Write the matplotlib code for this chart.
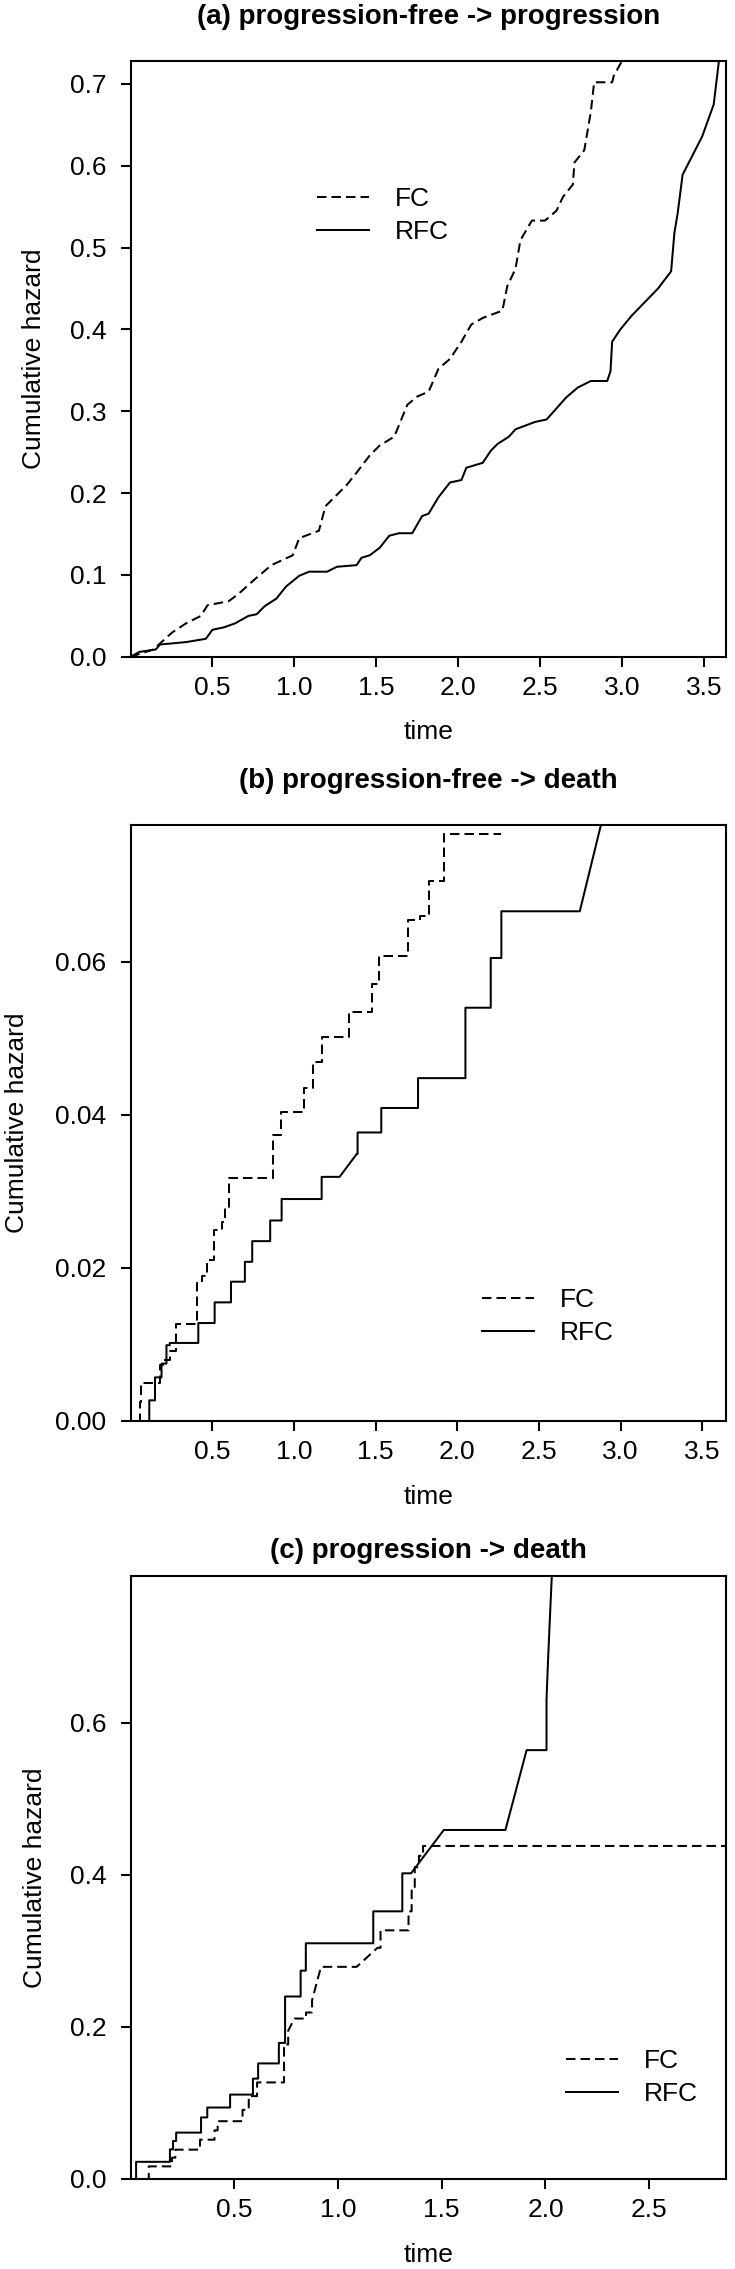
import matplotlib
matplotlib.use("Agg")
import matplotlib.pyplot as plt
from matplotlib.ticker import FormatStrFormatter

plt.rcParams['font.family'] = ['Liberation Sans', 'DejaVu Sans']

# ---------------- data ----------------
titles = ["(a) progression-free -> progression",
          "(b) progression-free -> death",
          "(c) progression -> death"]
series_labels = ["FC", "RFC"]

# panel (a): cumulative hazard curves (vertices)
a_fc_t = [0, 0.14, 0.256, 0.34, 0.43, 0.47, 0.60, 0.66, 0.76, 0.86, 0.99, 1.03, 1.15, 1.19, 1.26,
          1.32, 1.38, 1.46, 1.52, 1.61, 1.69, 1.75, 1.82, 1.88, 1.95, 2.02, 2.08, 2.15, 2.27, 2.30,
          2.35, 2.38, 2.45, 2.53, 2.60, 2.64, 2.70, 2.71, 2.77, 2.81, 2.83, 2.94, 2.95, 3.0, 3.05]
a_fc_h = [0, 0.009, 0.03, 0.041, 0.05, 0.063, 0.068, 0.077, 0.095, 0.112, 0.124, 0.145, 0.154, 0.184, 0.198,
          0.21, 0.225, 0.246, 0.258, 0.269, 0.308, 0.318, 0.324, 0.352, 0.364, 0.385, 0.406, 0.414, 0.423, 0.453,
          0.474, 0.509, 0.533, 0.533, 0.545, 0.562, 0.577, 0.604, 0.619, 0.666, 0.702, 0.702, 0.71, 0.728, 0.76]
a_rfc_t = [0, 0.055, 0.155, 0.18, 0.34, 0.46, 0.50, 0.57, 0.64, 0.72, 0.77, 0.82, 0.89, 0.95, 1.03,
           1.09, 1.20, 1.26, 1.38, 1.41, 1.46, 1.52, 1.58, 1.64, 1.72, 1.78, 1.82, 1.88, 1.95, 2.02,
           2.05, 2.15, 2.20, 2.24, 2.31, 2.35, 2.47, 2.54, 2.58, 2.66, 2.73, 2.81, 2.91, 2.93, 2.94,
           2.99, 3.06, 3.22, 3.30, 3.32, 3.34, 3.37, 3.49, 3.56, 3.59, 3.60]
a_rfc_h = [0, 0.006, 0.009, 0.015, 0.018, 0.022, 0.033, 0.036, 0.041, 0.050, 0.052, 0.062, 0.071, 0.086, 0.099,
           0.104, 0.104, 0.110, 0.112, 0.121, 0.124, 0.133, 0.148, 0.151, 0.151, 0.172, 0.175, 0.195, 0.213, 0.216,
           0.231, 0.237, 0.252, 0.260, 0.269, 0.278, 0.287, 0.290, 0.299, 0.317, 0.329, 0.337, 0.337, 0.349, 0.385,
           0.40, 0.417, 0.45, 0.471, 0.518, 0.542, 0.589, 0.636, 0.675, 0.725, 0.76]

# panel (b): step functions (event time, value after event); ramp = indices joined by a straight line
b_fc_t = [0.046, 0.056, 0.066, 0.18, 0.20, 0.24, 0.28, 0.41, 0.44, 0.47, 0.51, 0.56, 0.58, 0.60,
          0.87, 0.92, 1.06, 1.12, 1.17, 1.34, 1.48, 1.52, 1.70, 1.77, 1.83, 1.92, 2.27]
b_fc_h = [0, 0.0025, 0.005, 0.0073, 0.008, 0.0092, 0.0127, 0.018, 0.019, 0.021, 0.025, 0.026, 0.028, 0.0317,
          0.0374, 0.0404, 0.0435, 0.0469, 0.0502, 0.0535, 0.0571, 0.0607, 0.0654, 0.066, 0.0706, 0.0767, 0.0767]
b_fc_ramp = []
b_rfc_t = [0.10, 0.115, 0.15, 0.19, 0.22, 0.24, 0.415, 0.515, 0.615, 0.70, 0.745, 0.855, 0.925, 1.17, 1.28,
           1.385, 1.39, 1.535, 1.76, 2.05, 2.205, 2.27, 2.75, 2.89]
b_rfc_h = [0, 0.0027, 0.0057, 0.0075, 0.0099, 0.0102, 0.0128, 0.0155, 0.0182, 0.0208, 0.0235, 0.0262, 0.029,
           0.0319, 0.0319, 0.0349, 0.0377, 0.0409, 0.0448, 0.054, 0.0605, 0.0666, 0.0666, 0.0788]
b_rfc_ramp = [15, 23]

# panel (c): step functions
c_fc_t = [0.072, 0.088, 0.20, 0.216, 0.335, 0.405, 0.42, 0.54, 0.57, 0.61, 0.74, 0.76, 0.79, 0.846, 0.875,
          0.918, 1.09, 1.19, 1.205, 1.34, 1.355, 1.37, 1.39, 1.41, 2.88]
c_fc_h = [0, 0.0166, 0.028, 0.0386, 0.0517, 0.064, 0.076, 0.091, 0.109, 0.127, 0.177, 0.195, 0.211, 0.219, 0.235,
          0.279, 0.279, 0.304, 0.327, 0.352, 0.381, 0.41, 0.425, 0.438, 0.438]
c_fc_ramp = [12, 15, 17]
c_rfc_t = [0.016, 0.027, 0.19, 0.205, 0.22, 0.34, 0.37, 0.48, 0.59, 0.615, 0.715, 0.745, 0.82, 0.845, 1.17,
           1.31, 1.352, 1.51, 1.807, 1.909, 2.005, 2.012, 2.02, 2.03, 2.04]
c_rfc_h = [0, 0.0226, 0.039, 0.05, 0.061, 0.081, 0.094, 0.111, 0.132, 0.152, 0.179, 0.240, 0.274, 0.310, 0.352,
           0.402, 0.402, 0.459, 0.459, 0.564, 0.63, 0.68, 0.73, 0.79, 0.85]
c_rfc_ramp = [17, 19, 21, 22, 23, 24]

x_ticks_ab = [0.5, 1.0, 1.5, 2.0, 2.5, 3.0, 3.5]
x_ticks_c = [0.5, 1.0, 1.5, 2.0, 2.5]
y_ticks_a = [0.0, 0.1, 0.2, 0.3, 0.4, 0.5, 0.6, 0.7]
y_ticks_b = [0.00, 0.02, 0.04, 0.06]
y_ticks_c = [0.0, 0.2, 0.4, 0.6]


def step_vertices(t, h, ramp):
    xs, ys = [t[0]], [h[0]]
    for i in range(1, len(t)):
        if i in ramp:
            xs.append(t[i]); ys.append(h[i])
        else:
            xs += [t[i], t[i]]; ys += [h[i - 1], h[i]]
    return xs, ys


# ---------------- layout ----------------
W, H = 735, 2269
fig = plt.figure(figsize=(W / 100, H / 100), dpi=100)
fig.patch.set_facecolor("white")

LW = 1.45
DASH = (0, (4.7, 2.5))
FS = 19

panels = [
    dict(box=(130.5, 726, 60.6, 656.8), title_y=17, xlab_y=732, ylab_x=34,
         xlim=(0, 3.635), ylim=(0, 0.7285), xt=x_ticks_ab, yt=y_ticks_a, fmt='%.1f',
         fc=(a_fc_t, a_fc_h), rfc=(a_rfc_t, a_rfc_h),
         leg=(0.314, 0.740)),
    dict(box=(130.5, 726, 824.8, 1421), title_y=781, xlab_y=1497, ylab_x=17,
         xlim=(0, 3.645), ylim=(0, 0.0779), xt=x_ticks_ab, yt=y_ticks_b, fmt='%.2f',
         fc=step_vertices(b_fc_t, b_fc_h, b_fc_ramp), rfc=step_vertices(b_rfc_t, b_rfc_h, b_rfc_ramp),
         leg=(0.590, 0.175)),
    dict(box=(130.5, 726, 1576, 2179), title_y=1551, xlab_y=2255, ylab_x=35,
         xlim=(0, 2.87), ylim=(0, 0.793), xt=x_ticks_c, yt=y_ticks_c, fmt='%.1f',
         fc=step_vertices(c_fc_t, c_fc_h, c_fc_ramp), rfc=step_vertices(c_rfc_t, c_rfc_h, c_rfc_ramp),
         leg=(0.732, 0.168)),
]

for i, p in enumerate(panels):
    l, r, t, b = p['box']
    ax = fig.add_axes([l / W, 1 - b / H, (r - l) / W, (b - t) / H])
    h1, = ax.plot(p['fc'][0], p['fc'][1], color='black', lw=LW, linestyle=DASH,
                  dash_capstyle='butt')
    h2, = ax.plot(p['rfc'][0], p['rfc'][1], color='black', lw=LW, linestyle='-')
    ax.set_xlim(*p['xlim'])
    ax.set_ylim(*p['ylim'])
    ax.set_xticks(p['xt'])
    ax.set_yticks(p['yt'])
    ax.yaxis.set_major_formatter(FormatStrFormatter(p['fmt']))
    ax.xaxis.set_major_formatter(FormatStrFormatter('%.1f'))
    for s in ax.spines.values():
        s.set_linewidth(1.5)
        s.set_color('black')
    ax.tick_params(axis='both', direction='out', length=7.5, width=1.5, labelsize=FS, colors='black')
    ax.tick_params(axis='x', pad=6)
    ax.tick_params(axis='y', pad=10)

    cx = ((l + r) / 2) / W
    fig.text(cx, 1 - p['title_y'] / H, titles[i], ha='center', va='center',
             fontsize=20, fontweight='bold')
    fig.text(cx, 1 - p['xlab_y'] / H, "time", ha='center', va='center', fontsize=FS)
    fig.text(p['ylab_x'] / W, 1 - ((t + b) / 2) / H, "Cumulative hazard", ha='center', va='center',
             rotation=90, fontsize=FS)

    ax.legend([h1, h2], series_labels, loc='center left', bbox_to_anchor=p['leg'],
              frameon=False, borderpad=0, borderaxespad=0, handlelength=1.97,
              handletextpad=0.97, labelspacing=0.32, fontsize=FS)

fig.savefig("out.png", dpi=100, facecolor="white")
